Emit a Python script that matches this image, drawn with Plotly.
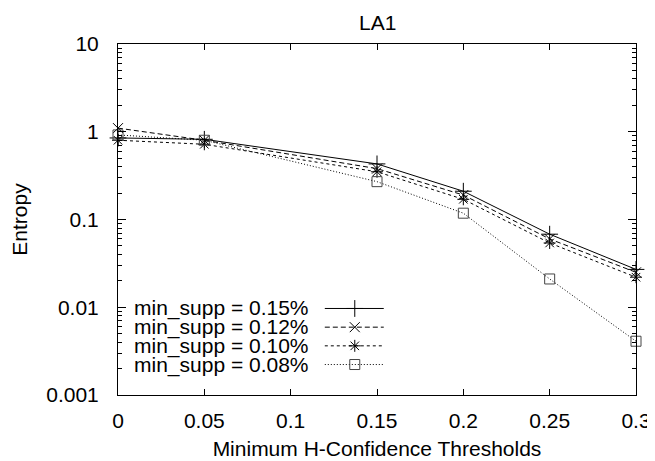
import plotly.graph_objects as go

thresholds = [0, 0.05, 0.15, 0.2, 0.25, 0.3]
series_names = ["min_supp = 0.15%", "min_supp = 0.12%", "min_supp = 0.10%", "min_supp = 0.08%"]
entropy_015 = [0.85, 0.82, 0.43, 0.21, 0.068, 0.027]
entropy_012 = [1.1, 0.80, 0.38, 0.19, 0.060, 0.025]
entropy_010 = [0.80, 0.72, 0.35, 0.17, 0.054, 0.022]
entropy_008 = [0.92, 0.80, 0.27, 0.118, 0.021, 0.0041]
series_values = [entropy_015, entropy_012, entropy_010, entropy_008]
x_ticks = [0, 0.05, 0.1, 0.15, 0.2, 0.25, 0.3]
x_tick_labels = ["0", "0.05", "0.1", "0.15", "0.2", "0.25", "0.3"]
y_ticks = [0.001, 0.01, 0.1, 1, 10]
y_tick_labels = ["0.001", "0.01", "0.1", "1", "10"]

styles = [
    dict(dash="solid", symbol="cross-thin", size=12, color="#000000"),
    dict(dash="5px,3px", symbol="x-thin", size=10, color="#000000"),
    dict(dash="3px,3px", symbol="asterisk", size=10, color="#000000"),
    dict(dash="1px,2px", symbol="square-open", size=10, color="#444444"),
]

FONT = "Liberation Sans, Arial, sans-serif"
FS = 21
fig = go.Figure()

for name, vals, st in zip(series_names, series_values, styles):
    fig.add_trace(go.Scatter(
        x=thresholds, y=vals, mode="lines+markers", name=name,
        line=dict(color="#000000", width=1, dash=st["dash"]),
        marker=dict(symbol=st["symbol"], size=st["size"], color=st["color"],
                    line=dict(color=st["color"], width=1)),
        showlegend=False, cliponaxis=False,
    ))

# Manual gnuplot-style key (text then sample) on pixel-scaled overlay axes
key_rows_y = [88, 69, 50, 31]
for name, st, ry in zip(series_names, styles, key_rows_y):
    fig.add_trace(go.Scatter(
        x=[214, 275], y=[ry, ry], mode="lines", xaxis="x2", yaxis="y2",
        line=dict(color="#000000", width=1, dash=st["dash"]), showlegend=False,
        hoverinfo="skip"))
    fig.add_trace(go.Scatter(
        x=[245], y=[ry], mode="markers", xaxis="x2", yaxis="y2",
        marker=dict(symbol=st["symbol"], size=st["size"], color=st["color"],
                    line=dict(color=st["color"], width=1)),
        showlegend=False, hoverinfo="skip"))
    fig.add_annotation(x=200, y=ry, xref="x2", yref="y2", text=name,
                       showarrow=False, xanchor="right", yanchor="middle",
                       font=dict(family=FONT, size=FS, color="#000000"))

# Title
fig.add_annotation(x=0.5, y=1, xref="paper", yref="paper", text="LA1",
                   showarrow=False, xanchor="center", yanchor="bottom", yshift=8,
                   font=dict(family=FONT, size=FS, color="#000000"))

minor_y = []
for d in [0.001, 0.01, 0.1, 1]:
    for k in range(2, 10):
        minor_y.append(d * k)

fig.update_layout(
    width=655, height=461,
    margin=dict(l=103, r=16, t=36, b=68),
    paper_bgcolor="white", plot_bgcolor="white",
    font=dict(family=FONT, size=FS, color="#000000"),
    xaxis=dict(
        range=[0, 0.3], tickmode="array", tickvals=x_ticks, ticktext=x_tick_labels,
        ticks="inside", ticklen=6, tickcolor="#000000", mirror="ticks",
        showline=True, linecolor="#000000", linewidth=1, showgrid=False,
        zeroline=False, ticklabelstandoff=7,
        title=dict(text="Minimum H-Confidence Thresholds", standoff=10,
                   font=dict(family=FONT, size=FS)),
    ),
    yaxis=dict(
        type="log", range=[-3, 1], tickmode="array", tickvals=y_ticks, ticktext=y_tick_labels,
        ticks="inside", ticklen=8, tickcolor="#000000", mirror="ticks",
        showline=True, linecolor="#000000", linewidth=1, showgrid=False,
        zeroline=False, ticklabelstandoff=14,
        minor=dict(tickmode="array", tickvals=minor_y, ticks="inside", ticklen=4,
                   tickcolor="#000000", showgrid=False),
        title=dict(text="Entropy", standoff=12, font=dict(family=FONT, size=FS)),
    ),
    xaxis2=dict(range=[0, 536], overlaying="x", visible=False, fixedrange=True),
    yaxis2=dict(range=[0, 357], overlaying="y", visible=False, fixedrange=True),
)

fig.write_html("out.html")
